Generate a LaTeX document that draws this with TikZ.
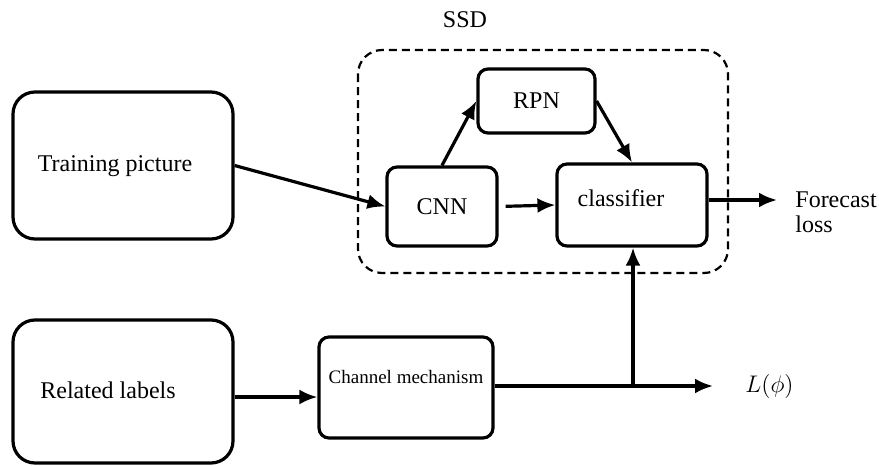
\documentclass[tikz,border=0pt]{standalone}
\usepackage{fontspec}
\setmainfont{Liberation Serif}
\newfontfamily\tnr{Liberation Serif}
\usetikzlibrary{arrows.meta}
\begin{document}
\begin{tikzpicture}[x=0.5pt,y=-0.5pt,
  font=\tnr\fontsize{12}{12.5}\selectfont,
  box/.style={draw,line width=1.6pt,rounded corners=5pt,inner sep=0pt},
  bigbox/.style={draw,line width=1.6pt,rounded corners=11pt,inner sep=0pt},
  arr/.style={line width=1.6pt,-{Latex[length=9pt,width=7.5pt]}},
  txt/.style={inner sep=0pt}]
\useasboundingbox (0,0) rectangle (879,466);
% SSD dashed region
\draw[line width=1.1pt,dash pattern=on 4pt off 2.5pt,rounded corners=12pt] (358,50) rectangle (728,273);
\node[txt] (ssd) at (465,20) {SSD};
% boxes
\node[bigbox,minimum width=110pt,minimum height=73.5pt] (train) at (123,165.5) {};
\node[txt] (traintxt) at (115,166) {Training picture};
\node[bigbox,minimum width=110pt,minimum height=71.5pt] (rel) at (123,391.5) {};
\node[txt] (reltxt) at (108,390) {Related labels};
\node[box,minimum width=55pt,minimum height=39.5pt] (cnn) at (442,206.5) {CNN};
\node[box,minimum width=58.5pt,minimum height=32pt] (rpn) at (536.5,101) {RPN};
\node[box,minimum width=75pt,minimum height=41pt] (cls) at (632,205) {};
\node[txt] (clstxt) at (621,198) {classifier};
\node[box,minimum width=87pt,minimum height=50.5pt] (chan) at (406,387.5) {};
\node[txt,font=\tnr\fontsize{9.5}{11}\selectfont] (chantxt) at (406,377) {Channel mechanism};
% outputs
\coordinate (fcend) at (777,200);
\node[txt,anchor=west,align=left] (fc) at (795,212) {Forecast\\loss};
\coordinate (lend) at (713,386);
\node[txt,anchor=west] (lphi) at (745,386) {$L(\phi)$};
\coordinate (rl) at (276,397);
\coordinate (jn) at (633,386);
% connectors
\draw[arr] (train.east) -- (cnn.west);
\draw[arr] (cnn.north) -- (rpn.west);
\draw[arr] (rpn.east) -- (cls.north);
\draw[arr,shorten <=3.5pt] (cnn.east) -- (cls.west);
\draw[arr] (cls.east |- fcend) -- (fcend);
\draw[arr] (rel.east |- rl) -- (chan.west |- rl);
\draw[arr] (chan.east |- jn) -- (lend);
\draw[arr] (jn) -- (jn |- cls.south);
\end{tikzpicture}
\end{document}
